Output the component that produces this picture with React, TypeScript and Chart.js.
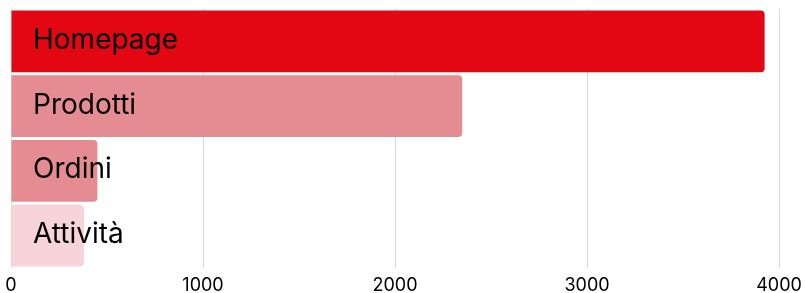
import React, { useEffect, useRef } from "react";
import { Chart, registerables } from "chart.js";

Chart.register(...registerables);

const categories = ["Homepage", "Prodotti", "Ordini", "Attività"];
const visits = [3925, 2350, 450, 380];
const barColors = ["#E30613", "#E48C91", "#E48C91", "#F7D4D7"];
const tickMin = 0;
const tickMax = 4000;
const tickStep = 1000;

const FONT = "Inter";

const insideLabels = {
  id: "insideLabels",
  afterDatasetsDraw(chart: any) {
    const { ctx, chartArea } = chart;
    const meta = chart.getDatasetMeta(0);
    ctx.save();
    ctx.font = `400 28px ${FONT}`;
    ctx.fillStyle = "#000";
    ctx.textBaseline = "middle";
    ctx.textAlign = "left";
    meta.data.forEach((bar: any, i: number) => {
      ctx.fillText(chart.data.labels[i], chartArea.left + 22, bar.y - 1);
    });
    ctx.restore();
  },
};

export default function App() {
  const ref = useRef<HTMLCanvasElement | null>(null);
  useEffect(() => {
    if (!ref.current) return;
    const chart = new Chart(ref.current, {
      type: "bar",
      data: {
        labels: categories,
        datasets: [
          {
            data: visits,
            backgroundColor: barColors,
            borderRadius: 4,
            categoryPercentage: 1,
            barPercentage: 0.955,
          },
        ],
      },
      options: {
        indexAxis: "y",
        animation: false,
        responsive: false,
        maintainAspectRatio: false,
        layout: { padding: { left: 11, right: 26, top: 9, bottom: 0 } },
        plugins: { legend: { display: false }, tooltip: { enabled: false } },
        scales: {
          x: {
            min: tickMin,
            max: tickMax,
            afterFit: (scale: any) => {
              scale.height = 25;
              scale.paddingLeft = 0;
              scale.paddingRight = 0;
            },
            ticks: {
              stepSize: tickStep,
              color: "#000",
              font: { family: FONT, size: 18 },
              padding: 7,
              callback: (v: any) => String(v),
            },
            grid: { color: "#d8d8d8", drawTicks: false },
            border: { display: false },
          },
          y: {
            display: false,
          },
        },
      },
      plugins: [insideLabels],
    });
    return () => chart.destroy();
  }, []);
  return (
    <div style={{ position: "absolute", left: 0, top: 0, width: 805, height: 293, overflow: "hidden" }}>
      <canvas ref={ref} width={805} height={293} style={{ display: "block" }} />
    </div>
  );
}
